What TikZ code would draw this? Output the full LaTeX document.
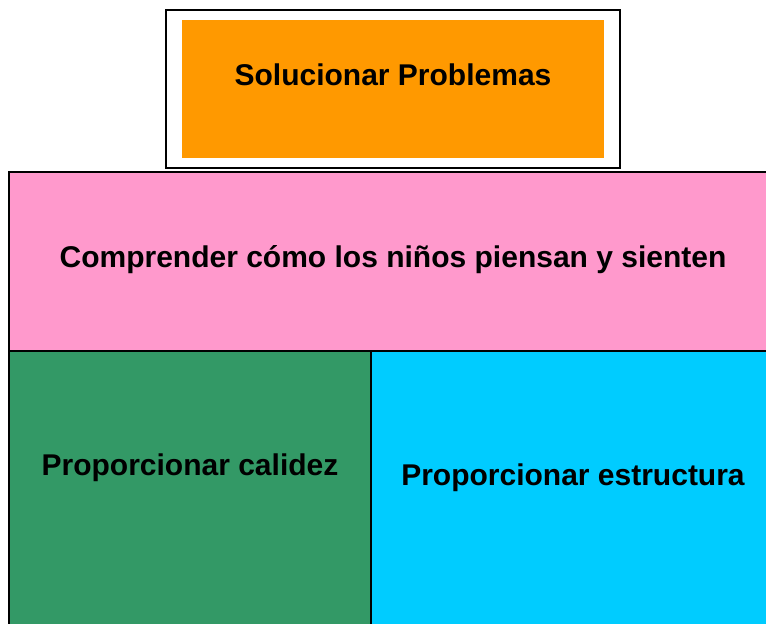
\documentclass[tikz,border=0pt]{standalone}
\usepackage{fontspec}
\setmainfont{Liberation Sans}
\usepackage{xcolor}

\definecolor{solveorange}{HTML}{FF9900}
\definecolor{thinkpink}{HTML}{FF99CC}
\definecolor{warmgreen}{HTML}{339966}
\definecolor{structcyan}{HTML}{00CCFF}

\begin{document}
\begin{tikzpicture}[x=1pt, y=-1pt]

\tikzstyle{every node} = [inner sep=0pt, outer sep=0pt]
\tikzstyle{block} = [rectangle, anchor=north west, draw=black, line width=1.5pt]
\tikzstyle{caption} = [anchor=base, font=\bfseries\fontsize{30}{36}\selectfont]

\useasboundingbox (0,0) rectangle (766,624);
\clip (0,0) rectangle (766,624);

\node[block, fill=white, minimum width=454pt, minimum height=158pt] (frame) at (166,10) {};
\node[block, draw=none, fill=solveorange, minimum width=422pt, minimum height=138pt] (solve) at (182,20) {};

\node[block, fill=thinkpink, minimum width=765pt, minimum height=179pt] (think) at (9,172) {};
\node[block, fill=warmgreen, minimum width=362pt, minimum height=285pt] (warm) at (9,351) {};
\node[block, fill=structcyan, minimum width=403pt, minimum height=285pt] (struct) at (371,351) {};

\node[caption] (t1) at (393,85) {Solucionar Problemas};
\node[caption] (t2) at (393,267) {Comprender cómo los niños piensan y sienten};
\node[caption] (t3) at (190,475) {Proporcionar calidez};
\node[caption] (t4) at (573,485) {Proporcionar estructura};

\end{tikzpicture}
\end{document}
